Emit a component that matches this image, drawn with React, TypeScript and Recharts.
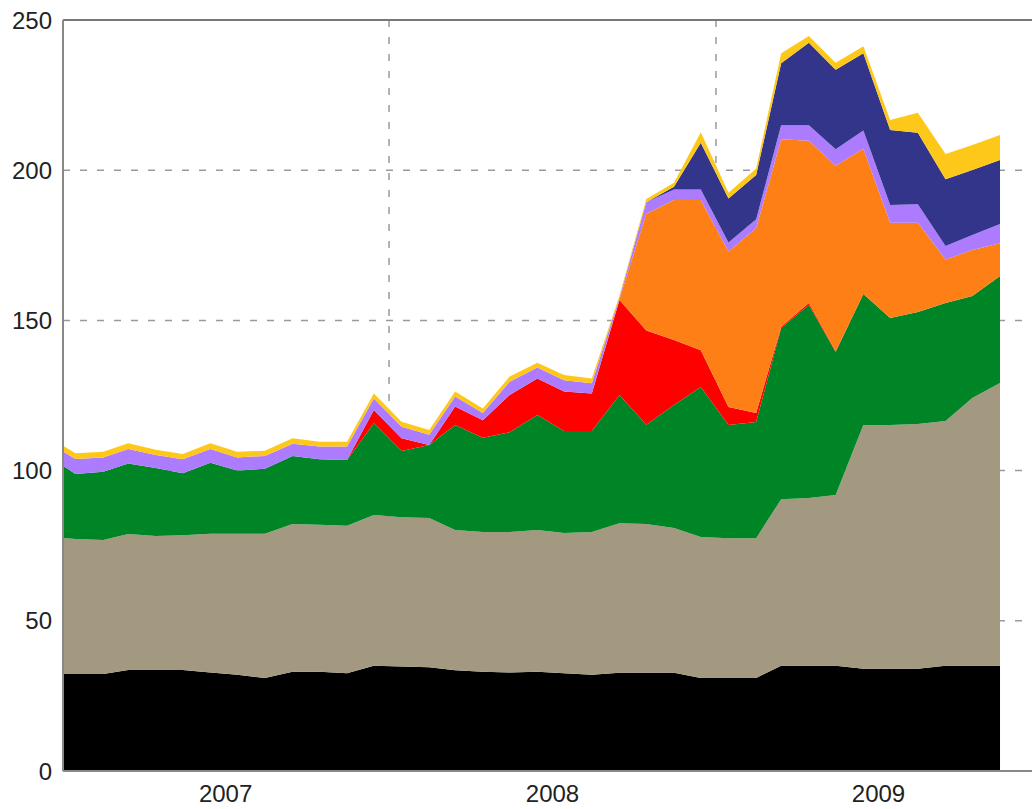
import { AreaChart, Area, XAxis, YAxis, CartesianGrid, ReferenceLine } from "recharts";

// mid-month samples; the first one sits before the axis start and gets clipped
const months = [
  "2006-12",
  "2007-01", "2007-02", "2007-03", "2007-04", "2007-05", "2007-06",
  "2007-07", "2007-08", "2007-09", "2007-10", "2007-11", "2007-12",
  "2008-01", "2008-02", "2008-03", "2008-04", "2008-05", "2008-06",
  "2008-07", "2008-08", "2008-09", "2008-10", "2008-11", "2008-12",
  "2009-01", "2009-02", "2009-03", "2009-04", "2009-05", "2009-06",
  "2009-07", "2009-08", "2009-09", "2009-10", "2009-11",
];

const black = [32.3, 32.3, 32.3, 33.6, 33.6, 33.6, 32.8, 32.0, 31.0, 33.0, 33.0, 32.5, 35.0, 34.8, 34.5, 33.5, 33.0, 32.8, 33.0, 32.5, 32.0, 32.7, 32.7, 32.7, 31.0, 31.0, 31.0, 35.0, 35.0, 35.0, 34.0, 34.0, 34.0, 35.0, 35.0, 35.0];
const tan = [45.7, 44.9, 44.6, 45.3, 44.6, 44.9, 46.2, 47.0, 48.0, 49.2, 49.0, 49.1, 50.2, 49.7, 49.7, 46.7, 46.6, 46.8, 47.2, 46.7, 47.6, 49.8, 49.5, 48.2, 46.9, 46.5, 46.5, 55.5, 55.9, 56.9, 81.2, 81.2, 81.5, 81.5, 89.2, 94.2];
const green = [26.9, 21.7, 22.7, 23.5, 22.7, 20.6, 23.6, 21.0, 21.6, 22.7, 21.8, 21.9, 30.6, 22.0, 24.3, 35.0, 31.3, 33.2, 38.3, 34.0, 33.6, 42.7, 33.1, 40.9, 49.9, 37.7, 38.7, 57.0, 64.2, 47.6, 43.6, 35.6, 37.3, 39.3, 33.9, 35.6];
const red = [0, 0, 0, 0, 0, 0, 0, 0, 0, 0, 0, 0, 4.4, 4.3, 0, 6.1, 5.9, 12.4, 12.2, 13.1, 12.5, 31.6, 31.3, 21.7, 12.3, 6.0, 3.0, 0.4, 0.7, 0.2, 0, 0, 0, 0, 0, 0];
const orange = [0, 0, 0, 0, 0, 0, 0, 0, 0, 0, 0, 0, 0, 0, 0, 0, 0, 0, 0, 0, 0, 0.3, 38.9, 46.6, 50.0, 51.7, 61.5, 62.4, 54.0, 61.8, 48.3, 31.7, 29.7, 14.5, 15.3, 10.9];
const purple = [4.4, 5.0, 4.8, 4.8, 4.3, 4.7, 4.6, 4.4, 4.3, 4.0, 4.2, 4.5, 3.8, 3.8, 3.4, 3.4, 2.4, 4.4, 3.6, 3.8, 3.4, 0.6, 3.8, 3.5, 3.5, 3.0, 3.0, 4.7, 5.2, 5.5, 6.1, 5.9, 6.2, 4.5, 5.0, 6.4];
const navy = [0, 0, 0, 0, 0, 0, 0, 0, 0, 0, 0, 0, 0, 0, 0, 0, 0, 0, 0, 0, 0, 0, 0, 0.9, 15.5, 14.7, 14.7, 20.6, 27.4, 26.4, 25.7, 25.0, 23.8, 22.2, 21.7, 21.3];
const yellow = [1.9, 1.9, 1.9, 1.9, 1.7, 1.7, 1.9, 1.9, 1.7, 1.9, 1.6, 1.6, 1.7, 1.7, 1.6, 1.6, 1.5, 1.7, 1.6, 1.7, 1.6, 0.6, 1.1, 1.3, 3.5, 1.9, 2.2, 3.3, 2.3, 2.4, 2.4, 3.3, 6.6, 8.4, 8.3, 8.3];

const yearLabels = ["2007-07-02", "2008-07-02", "2009-07-02"];
const yearBounds = ["2008-01-01", "2009-01-01"];
const yTicks = [0, 50, 100, 150, 200, 250];

const toTime = (s: string) => {
  const [y, m, d] = s.split("-").map(Number);
  return Date.UTC(y, m - 1, d || 15);
};

const domainStart = Date.UTC(2007, 0, 1);
const domainEnd = Date.UTC(2010, 0, 1);

const data = months.map((m, i) => ({
  t: toTime(m),
  black: black[i],
  tan: tan[i],
  green: green[i],
  red: red[i],
  orange: orange[i],
  purple: purple[i],
  navy: navy[i],
  yellow: yellow[i],
}));

const layers = [
  { key: "black", color: "#000000" },
  { key: "tan", color: "#a39880" },
  { key: "green", color: "#008526" },
  { key: "red", color: "#ff0000" },
  { key: "orange", color: "#fe7f16" },
  { key: "purple", color: "#ad7bfd" },
  { key: "navy", color: "#323589" },
  { key: "yellow", color: "#fec81a" },
];

const tickStyle = { fill: "#222", fontSize: 24, fontFamily: "'Liberation Sans', Arial, sans-serif" };

export default function App() {
  return (
    <div style={{ position: "absolute", left: 0, top: 0, width: 1032, height: 809, overflow: "hidden", background: "#fff" }}>
      <AreaChart width={1050} height={809} data={data} margin={{ top: 20, right: 8, left: 0, bottom: 0 }}>
        <XAxis
          xAxisId="grid"
          type="number"
          dataKey="t"
          domain={[domainStart, domainEnd]}
          ticks={yearBounds.map(toTime)}
          allowDataOverflow
          hide
        />
        <CartesianGrid xAxisId="grid" stroke="#9a9a9a" strokeWidth={1.5} strokeDasharray="7 10" />
        <XAxis
          type="number"
          dataKey="t"
          domain={[domainStart, domainEnd]}
          ticks={yearLabels.map(toTime)}
          tickFormatter={(v) => String(new Date(v).getUTCFullYear())}
          allowDataOverflow
          height={38}
          axisLine={{ stroke: "#888", strokeWidth: 2 }}
          tickLine={false}
          tickMargin={8}
          tick={tickStyle}
        />
        <YAxis
          domain={[0, 250]}
          ticks={yTicks}
          width={63}
          axisLine={{ stroke: "#888", strokeWidth: 2 }}
          tickLine={false}
          tickMargin={5}
          tick={tickStyle}
        />
        {layers.map((l) => (
          <Area
            key={l.key}
            type="linear"
            dataKey={l.key}
            stackId="1"
            stroke="none"
            fill={l.color}
            fillOpacity={1}
            isAnimationActive={false}
          />
        ))}
        <ReferenceLine y={250} stroke="#777" strokeWidth={2} />
      </AreaChart>
    </div>
  );
}
